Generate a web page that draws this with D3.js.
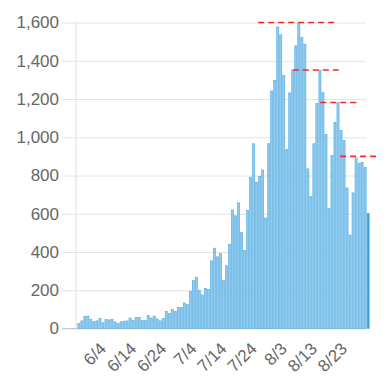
<html>
	<head>
	<title>Daily cases bar chart</title>
	<script src="https://d3js.org/d3.v7.min.js" charset="utf-8"></script>
	<style>
		body { margin: 0; background: white; }
		text { font-family: "Liberation Sans", Arial, sans-serif; fill: #666; }
	</style>
	</head>

	<body>
		<div id="svg"></div>

		<script type="text/javascript">
/* one bar per day, 5/26 .. 8/30 */
var firstDay = new Date(2020, 4, 26);
var lastDay = new Date(2020, 7, 30);

var cases = [
	/* 5/26 - 6/30 */
	26, 40, 64, 65, 47, 36, 40, 52, 30, 47, 45, 47, 35, 26, 35, 38, 40, 55, 42, 58,
	58, 42, 42, 68, 55, 65, 50, 40, 52, 89, 78, 100, 89, 110, 110, 134,
	/* July */
	125, 195, 250, 268, 198, 175, 209, 204, 354, 420, 375, 392, 250, 328, 441, 620,
	589, 657, 501, 409, 618, 791, 966, 765, 796, 829, 577, 966, 1242, 1298, 1577,
	/* August */
	1536, 1323, 936, 1232, 1351, 1478, 1598, 1522, 1487, 835, 691, 966, 1176, 1351, 1233,
	1015, 628, 904, 1078, 1181, 1036, 983, 735, 488, 709, 892, 864, 868, 843, 602
];

var yTicks = [0, 200, 400, 600, 800, 1000, 1200, 1400, 1600];
var xTickLabels = ["6/4", "6/14", "6/24", "7/4", "7/14", "7/24", "8/3", "8/13", "8/23"];

/* red dashed reference lines: value, and span in days counted from the first bar */
var refValues = [1600, 1352, 1182, 900];
var refSpans = [[59.5, 85.8], [71.0, 86.9], [80.1, 92.4], [86.7, 98.9]];

var fmt = d3.timeFormat("%-m/%-d");
var days = d3.timeDay.range(firstDay, d3.timeDay.offset(lastDay, 1)).map(fmt);

var chart = {
	"width": 387,
	"height": 380,
	"left": 77.5,
	"right": 369.5,
	"gridRight": 366,
	"top": 22.5,
	"bottom": 328.5
};

var svg = d3.select("#svg").append("svg")
			.attr("width", chart.width)
			.attr("height", chart.height);

var x = d3.scaleBand()
			.domain(days)
			.range([chart.left, chart.right])
			.paddingInner(0.3)
			.paddingOuter(0.1);

var y = d3.scaleLinear()
			.domain([0, 1600])
			.range([chart.bottom, chart.top]);

/* continuous x in day units, for the reference lines */
var dayX = d3.scaleLinear()
			.domain([0, days.length - 1])
			.range([x(days[0]) + x.bandwidth() / 2, x(days[days.length - 1]) + x.bandwidth() / 2]);

/* horizontal grid with the small ticks to the left of the axis */
svg.append("g")
	.attr("transform", "translate(" + (chart.left - 1.5) + ",0)")
	.call(d3.axisLeft(y).tickValues(yTicks).tickSize(-(chart.gridRight - chart.left + 1.5)).tickPadding(16).tickFormat(d3.format(",")))
	.call(function(g) {
		g.select(".domain").remove();
		g.selectAll(".tick line").attr("stroke", "#e4e4e4").attr("x1", -14);
		g.selectAll(".tick text").style("font-size", "17px").attr("x", -17).attr("fill", "#666");
	});

/* vertical axis line */
svg.append("line")
	.attr("x1", chart.left - 1.5).attr("x2", chart.left - 1.5)
	.attr("y1", chart.top).attr("y2", chart.bottom)
	.attr("stroke", "#dedede");

/* baseline */
svg.append("line")
	.attr("x1", chart.left - 15).attr("x2", chart.gridRight)
	.attr("y1", chart.bottom).attr("y2", chart.bottom)
	.attr("stroke", "#c8c8c8");

svg.selectAll(".bar")
	.data(cases)
	.enter()
	.append("rect")
	.attr("class", "bar")
	.attr("x", function(d, i) { return x(days[i]); })
	.attr("y", function(d) { return y(d); })
	.attr("width", x.bandwidth())
	.attr("height", function(d) { return y(0) - y(d); })
	.attr("fill", function(d, i) { return i === cases.length - 1 ? "#3d9fdc" : "#8fcbee"; })
	.attr("stroke", "#52aae0")
	.attr("stroke-width", 0.6);

/* x tick labels, rotated */
var xAxis = svg.append("g")
	.attr("transform", "translate(0," + chart.bottom + ")")
	.call(d3.axisBottom(x).tickValues(xTickLabels).tickSize(0).tickPadding(0))
	.call(function(g) {
		g.select(".domain").remove();
		g.selectAll(".tick text")
			.style("font-size", "17px")
			.attr("fill", "#666")
			.attr("text-anchor", "end")
			.attr("transform", "translate(-3,17) rotate(-45)")
			.attr("dy", "0.35em")
			.attr("y", 0);
	});

svg.selectAll(".refline")
	.data(refValues)
	.enter()
	.append("line")
	.attr("class", "refline")
	.attr("x1", function(d, i) { return dayX(refSpans[i][0]); })
	.attr("x2", function(d, i) { return dayX(refSpans[i][1]); })
	.attr("y1", function(d) { return y(d); })
	.attr("y2", function(d) { return y(d); })
	.attr("stroke", "#ee2a22")
	.attr("stroke-width", 1.6)
	.attr("stroke-dasharray", "6,4");

		</script>
	</body>
</html>
